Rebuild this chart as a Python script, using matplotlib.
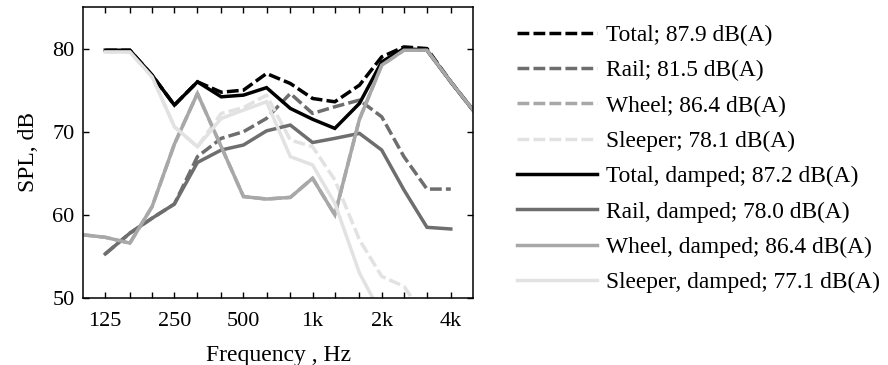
import numpy as np
import matplotlib
matplotlib.use("Agg")
import matplotlib.pyplot as plt
from matplotlib.ticker import FixedLocator, FixedFormatter, NullLocator

nan = np.nan
freqs = [100, 125, 160, 200, 250, 315, 400, 500, 630, 800, 1000, 1250, 1600, 2000, 2500, 3150, 4000, 5000]

total = [nan, 79.8, 79.8, 76.8, 73.2, 76.0, 74.75, 75.0, 77.0, 75.8, 74.0, 73.6, 75.6, 79.0, 80.2, 80.0, 76.0, 72.6]
rail = [nan, 55.3, 57.8, 59.6, 61.3, 67.0, 69.2, 70.0, 71.6, 74.6, 72.2, 73.0, 73.8, 71.8, 67.0, 63.1, 63.1, nan]
wheel = [57.6, 57.3, 56.6, 61.0, 68.5, 74.6, 68.2, 62.2, 61.9, 62.1, 64.4, 60.0, 71.5, 78.0, 79.8, 79.8, 76.0, 72.6]
sleeper = [nan, 79.6, 79.6, 76.6, 70.6, 68.2, 72.2, 72.9, 74.4, 69.0, 68.2, 64.2, 57.0, 52.6, 51.4, 47.4, nan, nan]

total_d = [nan, 79.8, 79.8, 76.8, 73.2, 76.0, 74.2, 74.4, 75.3, 72.8, 71.5, 70.4, 73.4, 78.4, 80.0, 79.8, 76.0, 72.6]
rail_d = [nan, 55.3, 57.8, 59.6, 61.3, 66.3, 67.8, 68.4, 70.1, 70.8, 68.7, 69.2, 69.8, 67.8, 63.0, 58.5, 58.3, nan]
wheel_d = [57.6, 57.3, 56.6, 61.0, 68.5, 74.6, 68.2, 62.2, 61.9, 62.1, 64.4, 60.0, 71.5, 78.0, 79.8, 79.8, 76.0, 72.6]
sleeper_d = [nan, 79.6, 79.6, 76.6, 70.6, 68.2, 71.6, 72.6, 73.6, 67.0, 66.0, 61.4, 53.0, 48.0, nan, nan, nan, nan]

labels = ["Total; 87.9 dB(A)", "Rail; 81.5 dB(A)", "Wheel; 86.4 dB(A)", "Sleeper; 78.1 dB(A)",
          "Total, damped; 87.2 dB(A)", "Rail, damped; 78.0 dB(A)", "Wheel, damped; 86.4 dB(A)",
          "Sleeper, damped; 77.1 dB(A)"]
colors = ["#000000", "#6e6e6e", "#a8a8a8", "#e2e2e2"]

tick_freqs = [125, 160, 200, 250, 315, 400, 500, 630, 800, 1000, 1250, 1600, 2000, 2500, 3150, 4000]
tick_labels = ["125", "", "", "250", "", "", "500", "", "", "1k", "", "", "2k", "", "", "4k"]

plt.rcParams['font.family'] = ['Liberation Serif', 'DejaVu Serif']

fig = plt.figure(figsize=(8.88, 3.65), dpi=100)
ax = fig.add_axes([0.0935, 0.1836, 0.4392, 0.7972])

lw = 2.5
dash = (0, (3.4, 1.2))
series = [total, rail, wheel, sleeper, total_d, rail_d, wheel_d, sleeper_d]
for i, s in enumerate(series):
    ls = dash if i < 4 else '-'
    ax.plot(freqs, s, color=colors[i % 4], lw=lw, linestyle=ls, label=labels[i],
            solid_joinstyle='miter', dash_capstyle='butt')

ax.set_xscale('log')
ax.set_xlim(100, 5000)
ax.set_ylim(50, 85)
ax.xaxis.set_major_locator(FixedLocator(tick_freqs))
ax.xaxis.set_major_formatter(FixedFormatter(tick_labels))
ax.xaxis.set_minor_locator(NullLocator())
ax.set_yticks([50, 60, 70, 80])
ax.tick_params(direction='in', top=True, right=True, length=4, width=1.0, labelsize=16)
ax.tick_params(axis='x', pad=10)
ax.tick_params(axis='y', pad=6)
for sp in ax.spines.values():
    sp.set_linewidth(1.1)

ax.set_xlabel("Frequency , Hz", fontsize=17, labelpad=10)
ax.set_ylabel("SPL, dB", fontsize=17, labelpad=10)

leg = fig.legend(loc='upper left', bbox_to_anchor=(0.572, 0.958), frameon=False,
                 fontsize=16.8, handlelength=3.43, handletextpad=0.39, labelspacing=0.6,
                 borderaxespad=0)

fig.savefig("out.png", dpi=100)
